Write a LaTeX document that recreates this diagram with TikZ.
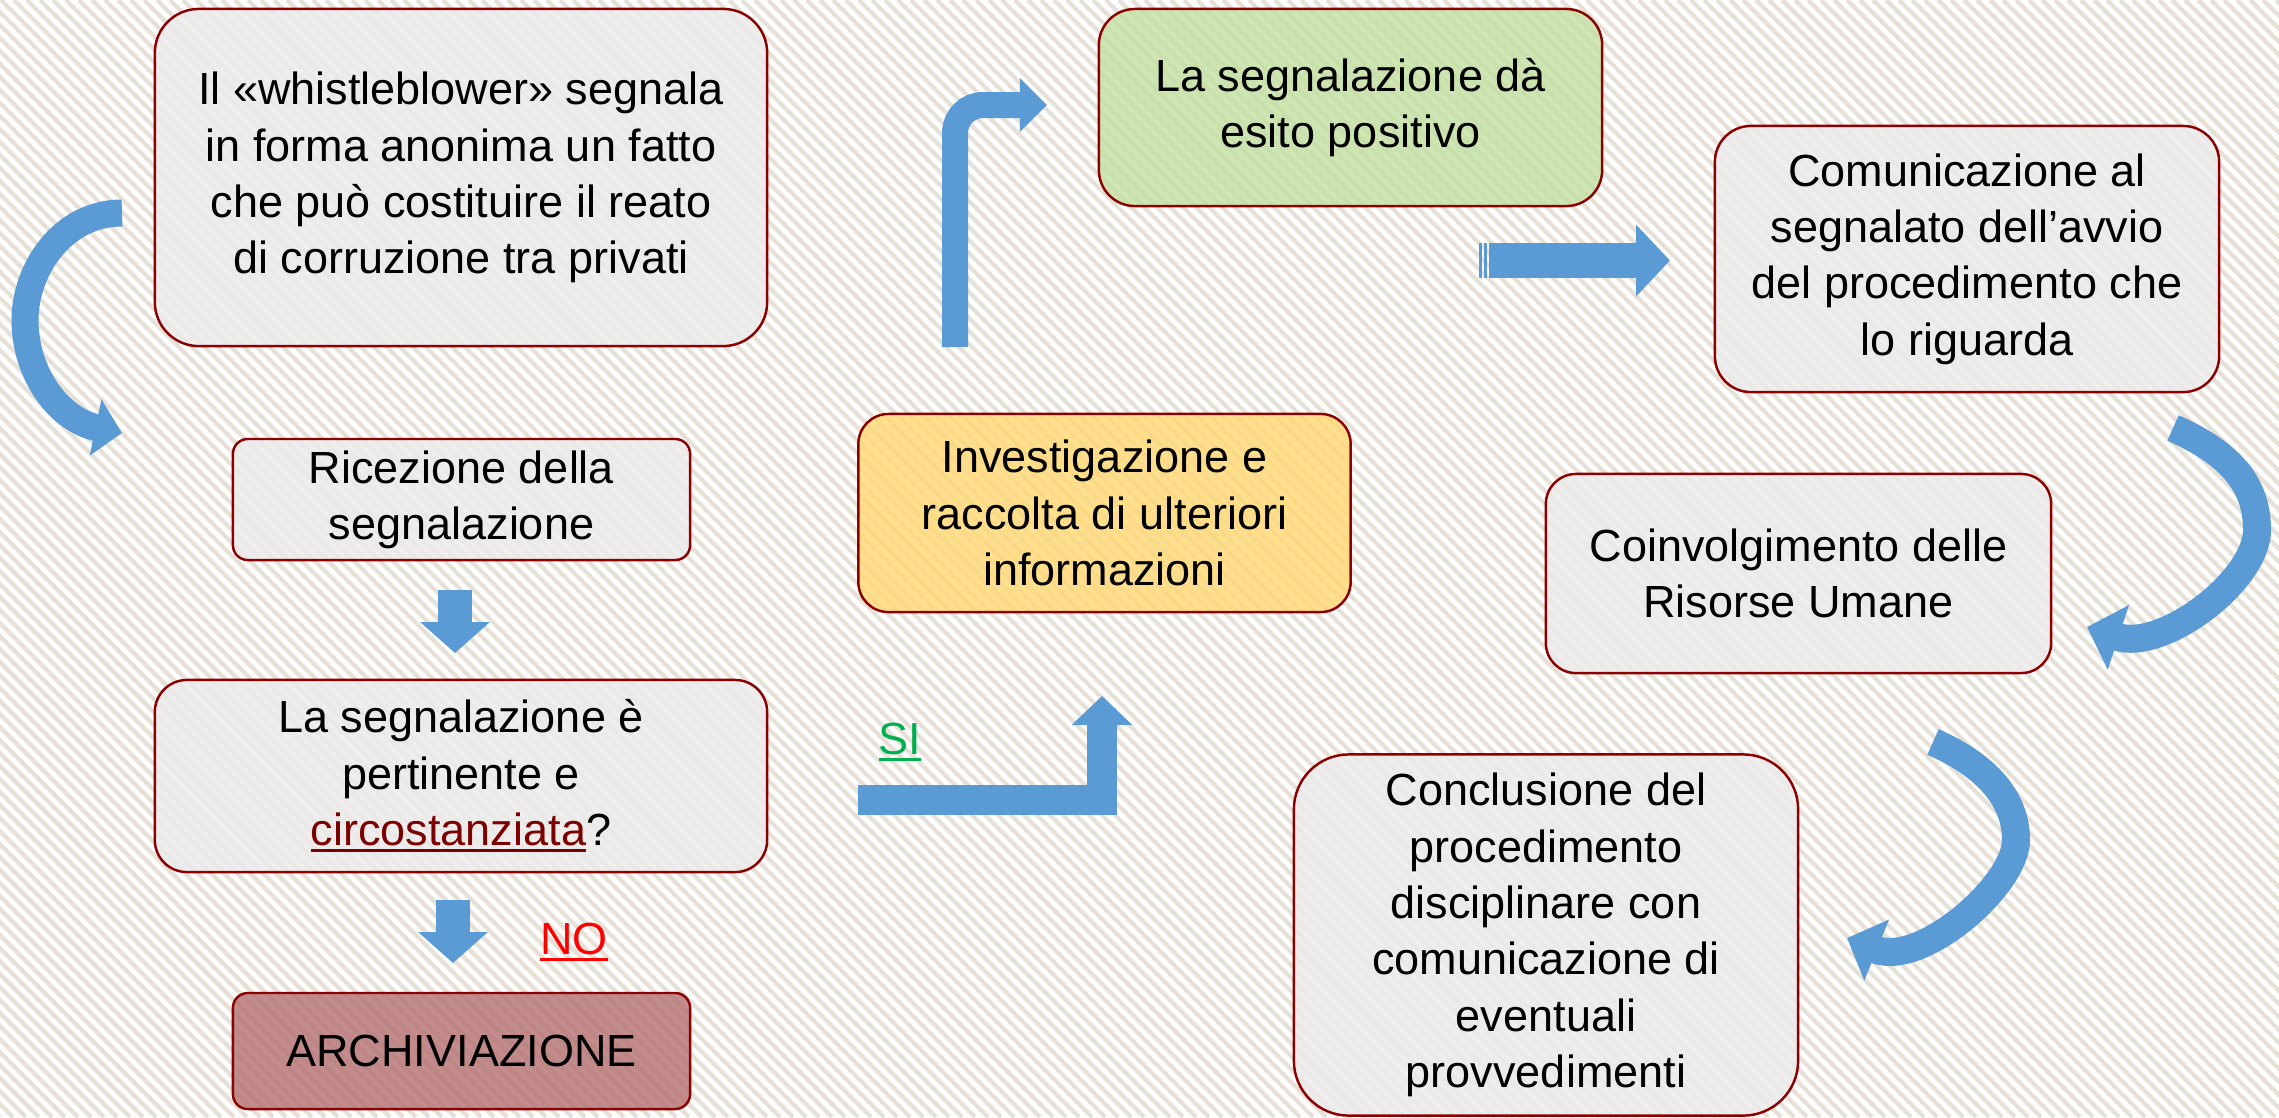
\documentclass[tikz,border=0pt]{standalone}
\usepackage{fontspec}
\setmainfont{Liberation Sans}
\usetikzlibrary{arrows.meta}
\definecolor{stripe}{HTML}{E6E0D6}
\definecolor{boxgray}{HTML}{EBEBEB}
\definecolor{boxgreen}{HTML}{C5E1A5}
\definecolor{boxyellow}{HTML}{FFD97A}
\definecolor{boxarch}{HTML}{B87878}
\definecolor{boxline}{HTML}{8B0000}
\definecolor{arrowblue}{HTML}{5B9BD5}
\definecolor{darkred}{HTML}{7B0000}
\definecolor{sigreen}{HTML}{00B050}
\newcommand\boxfont{\fontsize{12.8}{16}\selectfont}
\newcommand\ulined[1]{\leavevmode\vtop{\hbox{#1}\kern1pt\hrule height 0.9pt}}

\begin{document}
\begin{tikzpicture}[x=0.01cm, y=-0.01cm,
  box/.style={draw=boxline, line width=0.7pt, fill=boxgray, fill opacity=0.85, text opacity=1, align=center, font=\boxfont, inner sep=0pt},
  blockarrow/.style={draw=arrowblue}]
\useasboundingbox (0,0) rectangle (2279,1117);
% sfondo a righe
\fill[white] (0,0) rectangle (2279,1117);
\begin{scope}
\clip (0,0) rectangle (2279,1117);
\foreach \i in {-1130,-1117,...,2290}
  \draw[stripe, line width=1.2pt] (\i,0) -- ++(1117,1117);
\end{scope}

\node[box, minimum width=6.12cm, minimum height=3.37cm, rounded corners=0.44cm] (whistle) at (461,177.5) {Il «whistleblower» segnala\\in forma anonima un fatto\\che può costituire il reato\\di corruzione tra privati};
\node[box, minimum width=4.57cm, minimum height=1.21cm, rounded corners=0.15cm] (ricezione) at (461.5,499.5) {Ricezione della\\segnalazione};
\node[box, minimum width=6.12cm, minimum height=1.92cm, rounded corners=0.32cm] (pertinente) at (461,776) {La segnalazione è\\pertinente e\\\textcolor{darkred}{\ulined{circostanziata}}?};
\node[box, fill=boxarch, minimum width=4.57cm, minimum height=1.16cm, rounded corners=0.15cm] (archivio) at (461.5,1051) {ARCHIVIAZIONE};
\node[box, fill=boxyellow, minimum width=4.92cm, minimum height=1.98cm, rounded corners=0.30cm] (indagine) at (1104.5,513) {Investigazione e\\raccolta di ulteriori\\informazioni};
\node[box, fill=boxgreen, minimum width=5.03cm, minimum height=1.97cm, rounded corners=0.36cm] (positivo) at (1350.5,107.5) {La segnalazione dà\\esito positivo};
\node[box, minimum width=5.04cm, minimum height=2.66cm, rounded corners=0.36cm] (avvio) at (1967,259) {Comunicazione al\\segnalato dell’avvio\\del procedimento che\\lo riguarda};
\node[box, minimum width=5.05cm, minimum height=1.99cm, rounded corners=0.30cm] (risorse) at (1798.5,573.5) {Coinvolgimento delle\\Risorse Umane};
\node[box, minimum width=5.04cm, minimum height=3.61cm, rounded corners=0.55cm] (conclusione) at (1546,935) {Conclusione del\\procedimento\\disciplinare con\\comunicazione di\\eventuali\\provvedimenti};

\node[font=\boxfont, text=red] (no) at (574,942) {\ulined{NO}};
\node[font=\boxfont, text=sigreen] (si) at (900,742) {\ulined{SI}};

\coordinate (A1) at (122,213);
\coordinate (B1) at (122,433);
\coordinate (A2) at (455,590);
\coordinate (B2) at (455,653);
\coordinate (A3) at (453,900);
\coordinate (B3) at (453,963);
\coordinate (A4) at (858,800);
\coordinate (B4) at (1102,696);
\coordinate (A5) at (955,347);
\coordinate (B5) at (1047,105);
\coordinate (A6) at (1489,260.5);
\coordinate (B6) at (1670,260.5);
\coordinate (A7) at (2173,428);
\coordinate (B7) at (2087,627);
\coordinate (A8) at (1933,742);
\coordinate (B8) at (1847,938);

\draw[blockarrow, line width=0.27cm, -{Triangle[length=0.27cm,width=0.56cm]}] (A1) .. controls (62,213) and (25,270) .. (25,320) .. controls (25,375) and (60,420) .. (B1);
\draw[blockarrow, line width=0.34cm, -{Triangle[length=0.31cm,width=0.68cm]}] (A2) -- (B2);
\draw[blockarrow, line width=0.34cm, -{Triangle[length=0.31cm,width=0.68cm]}] (A3) -- (B3);
\draw[blockarrow, line width=0.30cm, -{Triangle[length=0.29cm,width=0.59cm]}] (A4) -| (B4);
\draw[blockarrow, line width=0.26cm, rounded corners=0.28cm, -{Triangle[length=0.27cm,width=0.52cm]}] (A5) |- (B5);
\draw[blockarrow, line width=0.35cm, -{Triangle[length=0.34cm,width=0.70cm]}] (A6) -- (B6);
\fill[arrowblue] (1479,243) rectangle (1481.5,278);
\fill[arrowblue] (1483.5,243) rectangle (1487,278);
\draw[blockarrow, line width=0.28cm, -{Triangle[length=0.33cm,width=0.66cm]}] (A7) .. controls (2237,456) and (2257,490) .. (2257,530) .. controls (2257,580) and (2163,652) .. (B7);
\draw[blockarrow, line width=0.28cm, -{Triangle[length=0.32cm,width=0.64cm]}] (A8) .. controls (1988,766) and (2016,800) .. (2016,840) .. controls (2016,885) and (1921,968) .. (B8);
\end{tikzpicture}
\end{document}
